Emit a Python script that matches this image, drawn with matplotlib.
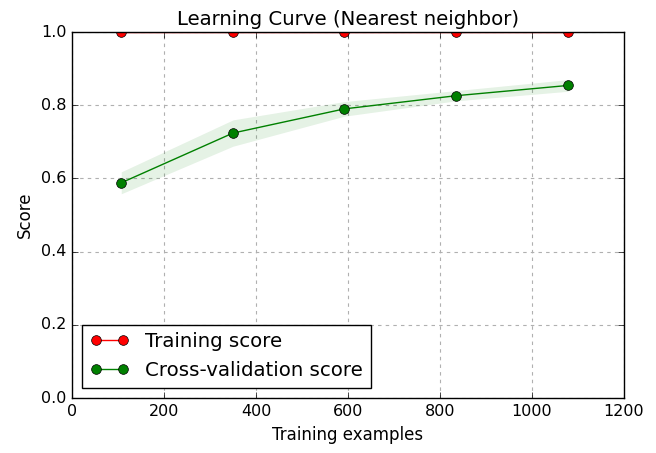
import numpy as np
import matplotlib
matplotlib.use("Agg")
import matplotlib.pyplot as plt
from matplotlib.patches import Rectangle

plt.style.use("classic")

# Learning-curve results (mean and std of scores across CV folds)
train_sizes = np.array([107, 350, 592, 835, 1078])
train_scores_mean = np.array([1.0, 1.0, 1.0, 1.0, 1.0])
train_scores_std = np.array([0.0, 0.0, 0.0, 0.0, 0.0])
test_scores_mean = np.array([0.588, 0.724, 0.790, 0.826, 0.854])
test_scores_std = np.array([0.030, 0.036, 0.020, 0.014, 0.016])

title = "Learning Curve (Nearest neighbor)"

fig = plt.figure(figsize=(6.56, 4.53), dpi=100, facecolor="white")
ax = fig.add_axes([0.1098, 0.1214, 0.8415, 0.8079])

ax.fill_between(train_sizes, train_scores_mean - train_scores_std,
                train_scores_mean + train_scores_std, alpha=0.1, color="r",
                linewidth=0)
ax.fill_between(train_sizes, test_scores_mean - test_scores_std,
                test_scores_mean + test_scores_std, alpha=0.1, color="g",
                linewidth=0)
ax.plot(train_sizes, train_scores_mean, "o-", color="r", markersize=7,
        label="Training score")
ax.plot(train_sizes, test_scores_mean, "o-", color="g", markersize=7,
        label="Cross-validation score")

# white band just outside the top frame: hides the part of the markers
# that pokes out above the axes (the spine is drawn over it)
ax.add_patch(Rectangle((0, 1.0), 1, 0.03, transform=ax.transAxes,
                       facecolor="white", edgecolor="none", linewidth=0,
                       clip_on=False, zorder=2.4))

ax.set_xlim(0, 1200)
ax.set_ylim(0.0, 1.0)
ax.set_title(title, fontsize=14.2)
ax.set_xlabel("Training examples", fontsize=12)
ax.set_ylabel("Score", fontsize=12)
ax.tick_params(labelsize=11.5)
ax.grid(True, color="#b0b0b0", linestyle=(0, (2.5, 3)), linewidth=0.8)
ax.set_axisbelow(True)
ax.legend(loc="lower left", numpoints=2, fontsize=14.2)

fig.savefig("out.png", dpi=100, facecolor="white")
